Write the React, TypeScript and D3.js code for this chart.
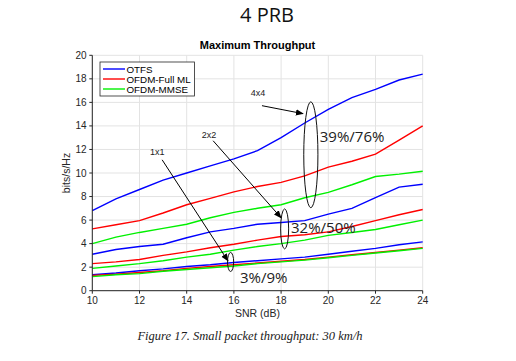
import React from 'react';
import * as d3 from 'd3';

const snr = [10, 11, 12, 13, 14, 15, 16, 17, 18, 19, 20, 21, 22, 23, 24];
const otfs4 = [6.8, 7.8, 8.6, 9.4, 10.0, 10.6, 11.2, 11.9, 13.0, 14.25, 15.4, 16.4, 17.1, 17.9, 18.4];
const fml4 = [5.25, 5.6, 5.95, 6.6, 7.3, 7.85, 8.4, 8.85, 9.2, 9.75, 10.5, 11.0, 11.6, 12.8, 14.0];
const mmse4 = [4.0, 4.55, 4.95, 5.3, 5.65, 6.2, 6.65, 7.0, 7.3, 7.9, 8.35, 9.0, 9.7, 9.9, 10.15];
const otfs2 = [3.1, 3.5, 3.75, 3.95, 4.5, 5.0, 5.3, 5.65, 5.8, 5.95, 6.5, 7.0, 7.9, 8.8, 9.05];
const fml2 = [2.3, 2.45, 2.65, 3.0, 3.3, 3.65, 3.95, 4.3, 4.6, 4.75, 5.0, 5.45, 5.95, 6.45, 6.9];
const mmse2 = [1.9, 2.1, 2.3, 2.55, 2.85, 3.1, 3.45, 3.75, 4.0, 4.3, 4.7, 4.95, 5.2, 5.6, 6.0];
const otfs1 = [1.35, 1.5, 1.7, 1.85, 2.05, 2.2, 2.4, 2.55, 2.7, 2.85, 3.1, 3.35, 3.6, 3.9, 4.15];
const fml1 = [1.3, 1.4, 1.55, 1.7, 1.9, 2.05, 2.2, 2.35, 2.5, 2.65, 2.85, 3.05, 3.25, 3.45, 3.65];
const mmse1 = [1.2, 1.35, 1.45, 1.65, 1.8, 1.95, 2.1, 2.3, 2.45, 2.6, 2.8, 3.0, 3.2, 3.4, 3.6];

const seriesNames = ['OTFS', 'OFDM-Full ML', 'OFDM-MMSE'];
const seriesColors = ['#0000ff', '#ff0000', '#00f000'];
const xTicks = [10, 12, 14, 16, 18, 20, 22, 24];
const yTicks = [0, 2, 4, 6, 8, 10, 12, 14, 16, 18, 20];

// annotation groups: label, label pos, arrow from, arrow to, ellipse (cx, cy, rx, ry), percent text & position
const annoLabels = ['4x4', '2x2', '1x1'];
const annoLabelPos = [[17.02, 16.8], [14.95, 13.25], [12.75, 11.8]];
const annoArrowFrom = [[17.19, 15.72], [15.12, 12.74], [12.96, 11.12]];
const annoArrowTo = [[18.93, 15.04], [18.0, 6.19], [15.75, 2.53]];
const annoEllipse = [[19.26, 11.55, 0.3, 4.5], [18.15, 5.25, 0.17, 1.7], [15.86, 2.44, 0.13, 0.81]];
const annoPct = ['39%/76%', '32%/50%', '3%/9%'];
const annoPctPos = [[19.64, 13.08], [18.42, 5.34], [16.26, 1.1]];

export default function App() {
  const W = 516, H = 361;
  const x = d3.scaleLinear().domain([10, 24]).range([92.3, 422.7]);
  const y = d3.scaleLinear().domain([0, 20]).range([290.7, 55.3]);
  const line = d3.line<number>().x((_, i) => x(snr[i])).y((d) => y(d));
  const groups = [
    [otfs4, fml4, mmse4],
    [otfs2, fml2, mmse2],
    [otfs1, fml1, mmse1],
  ];
  const axisFont = 'Liberation Sans, Arial, sans-serif';
  const tickColor = '#262626';
  return (
    <svg width={W} height={H} style={{ position: 'absolute', left: 0, top: 0, background: '#fff' }}>
      <defs>
        <marker id="ah" viewBox="0 0 10 10" refX="9" refY="5" markerWidth="8" markerHeight="8" orient="auto" markerUnits="userSpaceOnUse">
          <path d="M0,1 L10,5 L0,9 z" fill="#000" />
        </marker>
      </defs>
      <text x={267} y={22} textAnchor="middle" fontFamily="Open Sans, sans-serif" fontSize={20} fill="#111">4 PRB</text>
      <text x={257.5} y={49} textAnchor="middle" fontFamily={axisFont} fontSize={11} fontWeight="bold" fill="#000">Maximum Throughput</text>
      {/* grid */}
      {xTicks.map((t) => (
        <line key={'gx' + t} x1={x(t)} x2={x(t)} y1={y(0)} y2={y(20)} stroke="#e3e3e3" strokeWidth={1} />
      ))}
      {yTicks.map((t) => (
        <line key={'gy' + t} x1={x(10)} x2={x(24)} y1={y(t)} y2={y(t)} stroke="#e3e3e3" strokeWidth={1} />
      ))}
      {/* series */}
      {groups.map((g, gi) =>
        g.map((s, si) => (
          <path key={gi + '-' + si} d={line(s) || ''} fill="none" stroke={seriesColors[si]} strokeWidth={1.4} />
        ))
      )}
      {/* axes */}
      <line x1={x(10)} x2={x(10)} y1={y(0)} y2={y(20)} stroke="#262626" strokeWidth={1} />
      <line x1={x(10)} x2={x(24)} y1={y(0)} y2={y(0)} stroke="#262626" strokeWidth={1} />
      {xTicks.map((t) => (
        <g key={'xt' + t}>
          <line x1={x(t)} x2={x(t)} y1={y(0)} y2={y(0) + 3} stroke="#262626" />
          <text x={x(t)} y={304} textAnchor="middle" fontFamily={axisFont} fontSize={10} fill={tickColor}>{t}</text>
        </g>
      ))}
      {yTicks.map((t) => (
        <g key={'yt' + t}>
          <line x1={x(10) - 3} x2={x(10)} y1={y(t)} y2={y(t)} stroke="#262626" />
          <text x={86.5} y={y(t) + 3.5} textAnchor="end" fontFamily={axisFont} fontSize={10} fill={tickColor}>{t}</text>
        </g>
      ))}
      <text x={257.5} y={317} textAnchor="middle" fontFamily={axisFont} fontSize={10.5} fill={tickColor}>SNR (dB)</text>
      <text transform={`translate(70,${(y(0) + y(20)) / 2}) rotate(-90)`} textAnchor="middle" fontFamily={axisFont} fontSize={10.5} fill={tickColor}>bits/s/Hz</text>
      {/* legend */}
      <rect x={100} y={62} width={94.5} height={34} fill="#fff" stroke="#262626" strokeWidth={0.8} />
      {seriesNames.map((n, i) => (
        <g key={'lg' + i}>
          <line x1={103} x2={125} y1={69 + i * 10} y2={69 + i * 10} stroke={seriesColors[i]} strokeWidth={1.4} />
          <text x={126.5} y={72.5 + i * 10} fontFamily={axisFont} fontSize={9.8} fill="#000">{n}</text>
        </g>
      ))}
      {/* annotations */}
      {annoLabels.map((l, i) => {
        const [ecx, ecy, erx, ery] = annoEllipse[i];
        return (
          <g key={'an' + i}>
            <text x={x(annoLabelPos[i][0])} y={y(annoLabelPos[i][1]) + 3} textAnchor="middle" fontFamily={axisFont} fontSize={9} fill="#222">{l}</text>
            <line x1={x(annoArrowFrom[i][0])} y1={y(annoArrowFrom[i][1])} x2={x(annoArrowTo[i][0])} y2={y(annoArrowTo[i][1])} stroke="#000" strokeWidth={1} markerEnd="url(#ah)" />
            <ellipse cx={x(ecx)} cy={y(ecy)} rx={x(ecx + erx) - x(ecx)} ry={y(ecy - ery) - y(ecy)} fill="none" stroke="#111" strokeWidth={1} />
            <text x={x(annoPctPos[i][0])} y={y(annoPctPos[i][1]) + 5.5} fontFamily="Open Sans, sans-serif" fontSize={15} fill="#222">{annoPct[i]}</text>
          </g>
        );
      })}
      <text x={250} y={339.5} textAnchor="middle" fontFamily="Liberation Serif, Times New Roman, serif" fontStyle="italic" fontSize={12.5} fill="#1a1a1a">Figure 17. Small packet throughput: 30 km/h</text>
    </svg>
  );
}
